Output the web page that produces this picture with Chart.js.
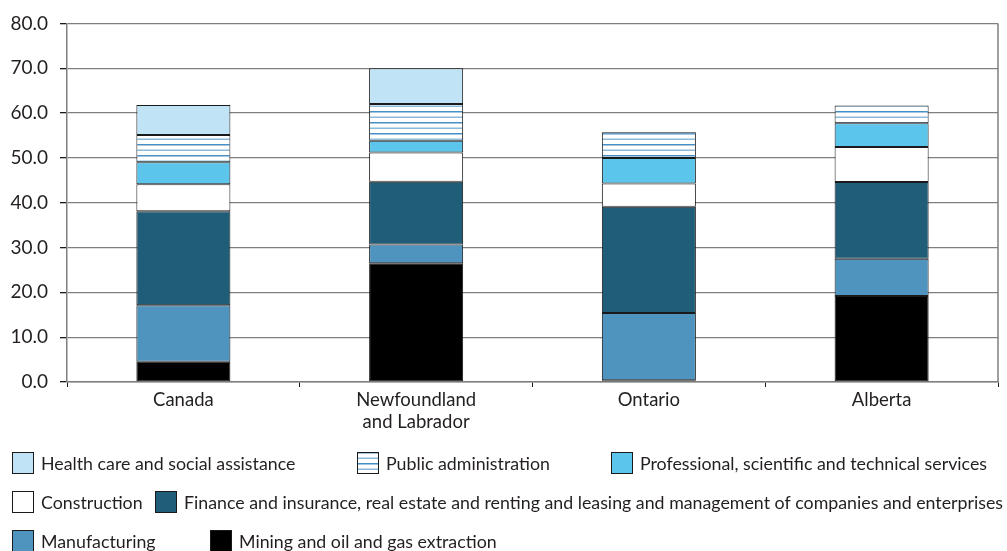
<!DOCTYPE html>
<html>
<head>
<meta charset="utf-8">
<script src="https://cdn.jsdelivr.net/npm/chart.js@4.4.1/dist/chart.umd.min.js"></script>
<style>
    html, body { margin: 0; padding: 0; background: #fff; }
    #wrap { width: 1007px; height: 551px; }
</style>
</head>
<body>
<div id="wrap"><canvas id="chart" width="1007" height="551"></canvas></div>
<script>
// data (percent)
const categories = [['Canada'], ['Newfoundland', 'and Labrador'], ['Ontario'], ['Alberta']];
const yTicks = [0, 10, 20, 30, 40, 50, 60, 70, 80];

const mining = [4.5, 26.5, 0.4, 19.2];
const manufacturing = [12.6, 4.2, 15.0, 8.3];
const finance = [21.0, 14.0, 23.7, 17.1];
const construction = [6.0, 6.5, 5.2, 7.8];
const professional = [4.9, 2.6, 5.7, 5.3];
const publicAdmin = [6.1, 8.2, 5.7, 4.0];
const healthCare = [6.7, 8.0, null, null];

const FONT = 'Lato, "Open Sans", sans-serif';
const TEXT = '#231f20';

function stripes() {
    const c = document.createElement('canvas');
    c.width = 8;
    c.height = 11;
    const ctx = c.getContext('2d');
    ctx.fillStyle = '#fff';
    ctx.fillRect(0, 0, 8, 11);
    ctx.fillStyle = '#4a8fc4';
    ctx.fillRect(0, 1, 8, 1.5);
    ctx.fillStyle = '#8cbad8';
    ctx.fillRect(0, 6.5, 8, 1.5);
    return ctx.createPattern(c, 'repeat');
}

const publicFill = stripes();

const datasets = [
    { label: 'Mining and oil and gas extraction', data: mining, backgroundColor: '#000000' },
    { label: 'Manufacturing', data: manufacturing, backgroundColor: '#4f94bf' },
    { label: 'Finance and insurance, real estate and renting and leasing and management of companies and enterprises', data: finance, backgroundColor: '#1f5d78' },
    { label: 'Construction', data: construction, backgroundColor: '#ffffff' },
    { label: 'Professional, scientific and technical services', data: professional, backgroundColor: '#5bc5ec' },
    { label: 'Public administration', data: publicAdmin, backgroundColor: publicFill },
    { label: 'Health care and social assistance', data: healthCare, backgroundColor: '#c0e4f5' },
].map((d) => ({
    ...d,
    borderColor: '#1a1a1a',
    borderWidth: 1,
    borderSkipped: false,
    barPercentage: 0.404,
    categoryPercentage: 1,
}));

// legend rows as in the original (top-most series first)
const legendSpots = [
    { row: 0, x: 12 }, { row: 0, x: 357 }, { row: 0, x: 611 },
    { row: 1, x: 12 }, { row: 1, x: 155 },
    { row: 2, x: 12 }, { row: 2, x: 210 },
];
const legendRows = [463, 502, 541];

const frameAndLegend = {
    id: 'frameAndLegend',
    afterDatasetsDraw(chart) {
        const { ctx, chartArea: a } = chart;
        ctx.save();
        ctx.strokeStyle = '#7f7f7f';
        ctx.lineWidth = 1.5;
        ctx.beginPath();
        ctx.moveTo(a.right, a.top);
        ctx.lineTo(a.right, a.bottom);
        ctx.stroke();
        ctx.restore();
    },
    afterDraw(chart) {
        const { ctx } = chart;
        const order = chart.data.datasets.slice().reverse();
        ctx.save();
        ctx.font = '17.8px ' + FONT;
        ctx.textBaseline = 'middle';
        order.forEach((ds, i) => {
            const spot = legendSpots[i];
            const y = legendRows[spot.row];
            ctx.fillStyle = ds.backgroundColor;
            ctx.fillRect(spot.x, y - 11, 21, 22);
            ctx.strokeStyle = '#1a1a1a';
            ctx.lineWidth = 1;
            ctx.strokeRect(spot.x + 0.5, y - 10.5, 21, 21);
            ctx.fillStyle = TEXT;
            ctx.fillText(ds.label, spot.x + 29, y + 1);
        });
        ctx.restore();
    },
};

new Chart(document.getElementById('chart'), {
    type: 'bar',
    data: { labels: categories, datasets },
    options: {
        responsive: false,
        animation: false,
        devicePixelRatio: 1,
        layout: { padding: { top: 23, right: 9, left: 0, bottom: 0 } },
        plugins: { legend: { display: false }, tooltip: { enabled: false } },
        scales: {
            x: {
                stacked: true,
                grid: { offset: true, drawOnChartArea: false, color: '#1a1a1a', tickLength: 5 },
                border: { color: '#7f7f7f', width: 1.5 },
                ticks: { color: TEXT, font: { family: FONT, size: 18.5, lineHeight: 1.2 }, padding: 2, maxRotation: 0 },
                afterFit: (scale) => { scale.height = 169; },
            },
            y: {
                stacked: true,
                min: 0,
                max: 80,
                afterBuildTicks: (scale) => { scale.ticks = yTicks.map((v) => ({ value: v })); },
                grid: { color: '#7f7f7f', lineWidth: 1.3, tickLength: 7, tickColor: '#1a1a1a' },
                border: { color: '#7f7f7f', width: 1.5 },
                ticks: {
                    color: TEXT,
                    font: { family: FONT, size: 19 },
                    padding: 12,
                    callback: (v) => Number(v).toFixed(1),
                },
                afterFit: (scale) => { scale.width = 67; },
            },
        },
    },
    plugins: [frameAndLegend],
});
</script>
</body>
</html>
